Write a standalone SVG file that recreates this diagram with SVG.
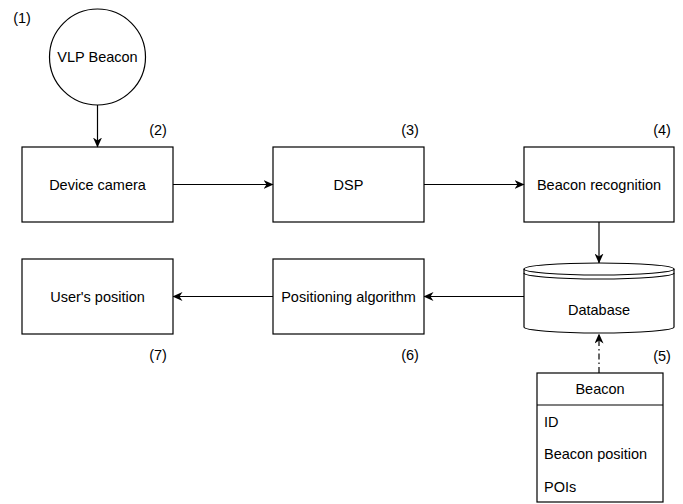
<svg xmlns="http://www.w3.org/2000/svg" width="683" height="504" viewBox="0 0 683 504">
<defs>
<style>
.box{fill:#fff;stroke:#000;stroke-width:1.2}
.ln{fill:none;stroke:#000;stroke-width:1.2}
.t{font-family:"Liberation Sans",Arial,sans-serif;font-size:14.5px;fill:#000}
.c{text-anchor:middle;dominant-baseline:central}
.l{dominant-baseline:central}
.conn{fill:none;stroke:#000;stroke-width:1.2}
</style>
<marker id="arr" viewBox="0 0 10 9" refX="9.5" refY="4.5" markerWidth="10" markerHeight="9" markerUnits="userSpaceOnUse" orient="auto">
<path d="M0,0 L10,4.5 L0,9 L3,4.5 Z" fill="#000"/>
</marker>
</defs>
<rect width="683" height="504" fill="#fff"/>

<g id="label1"><text class="t c" x="22" y="18">(1)</text></g>

<g id="vlp">
<circle class="box" cx="97.5" cy="57" r="48"/>
<text class="t c" x="97.5" y="57">VLP Beacon</text>
</g>

<g id="camera">
<rect class="box" x="22" y="147" width="151" height="75"/>
<text class="t c" x="97.5" y="184.5">Device camera</text>
<text class="t c" x="158" y="130">(2)</text>
</g>

<g id="dsp">
<rect class="box" x="273" y="147" width="151" height="75"/>
<text class="t c" x="348.5" y="184.5">DSP</text>
<text class="t c" x="410" y="130">(3)</text>
</g>

<g id="recognition">
<rect class="box" x="524" y="147" width="150" height="75"/>
<text class="t c" x="599" y="184.5">Beacon recognition</text>
<text class="t c" x="662" y="130">(4)</text>
</g>

<g id="database">
<path class="box" d="M524,269 A75,6 0 0 1 674,269 L674,327 A75,6 0 0 1 524,327 Z"/>
<path class="ln" d="M524,269 A75,6 0 0 0 674,269 M524,273 A75,6 0 0 0 674,273"/>
<text class="t c" x="599" y="310">Database</text>
<text class="t c" x="662" y="356">(5)</text>
</g>

<g id="positioning">
<rect class="box" x="273" y="259" width="151" height="75"/>
<text class="t c" x="348.5" y="296.5">Positioning algorithm</text>
<text class="t c" x="410" y="355">(6)</text>
</g>

<g id="user">
<rect class="box" x="22" y="259" width="151" height="75"/>
<text class="t c" x="97.5" y="296.5">User's position</text>
<text class="t c" x="158" y="355">(7)</text>
</g>

<g id="beacon-table">
<rect class="box" x="537" y="373" width="126" height="129"/>
<line class="ln" x1="537" y1="405" x2="663" y2="405"/>
<text class="t c" x="600" y="389">Beacon</text>
<text class="t l" x="544" y="422">ID</text>
<text class="t l" x="544" y="454">Beacon position</text>
<text class="t l" x="544" y="487">POIs</text>
</g>

<g id="connectors">
<path class="conn" d="M97.5,105 L97.5,147" marker-end="url(#arr)"/>
<path class="conn" d="M173,184.5 L273,184.5" marker-end="url(#arr)"/>
<path class="conn" d="M424,184.5 L524,184.5" marker-end="url(#arr)"/>
<path class="conn" d="M599,222 L599,263" marker-end="url(#arr)"/>
<path class="conn" d="M524,296.5 L424,296.5" marker-end="url(#arr)"/>
<path class="conn" d="M273,296.5 L173,296.5" marker-end="url(#arr)"/>
<path class="conn" d="M599,373 L599,334" stroke-dasharray="6,3,1.5,3" marker-end="url(#arr)"/>
</g>
</svg>
